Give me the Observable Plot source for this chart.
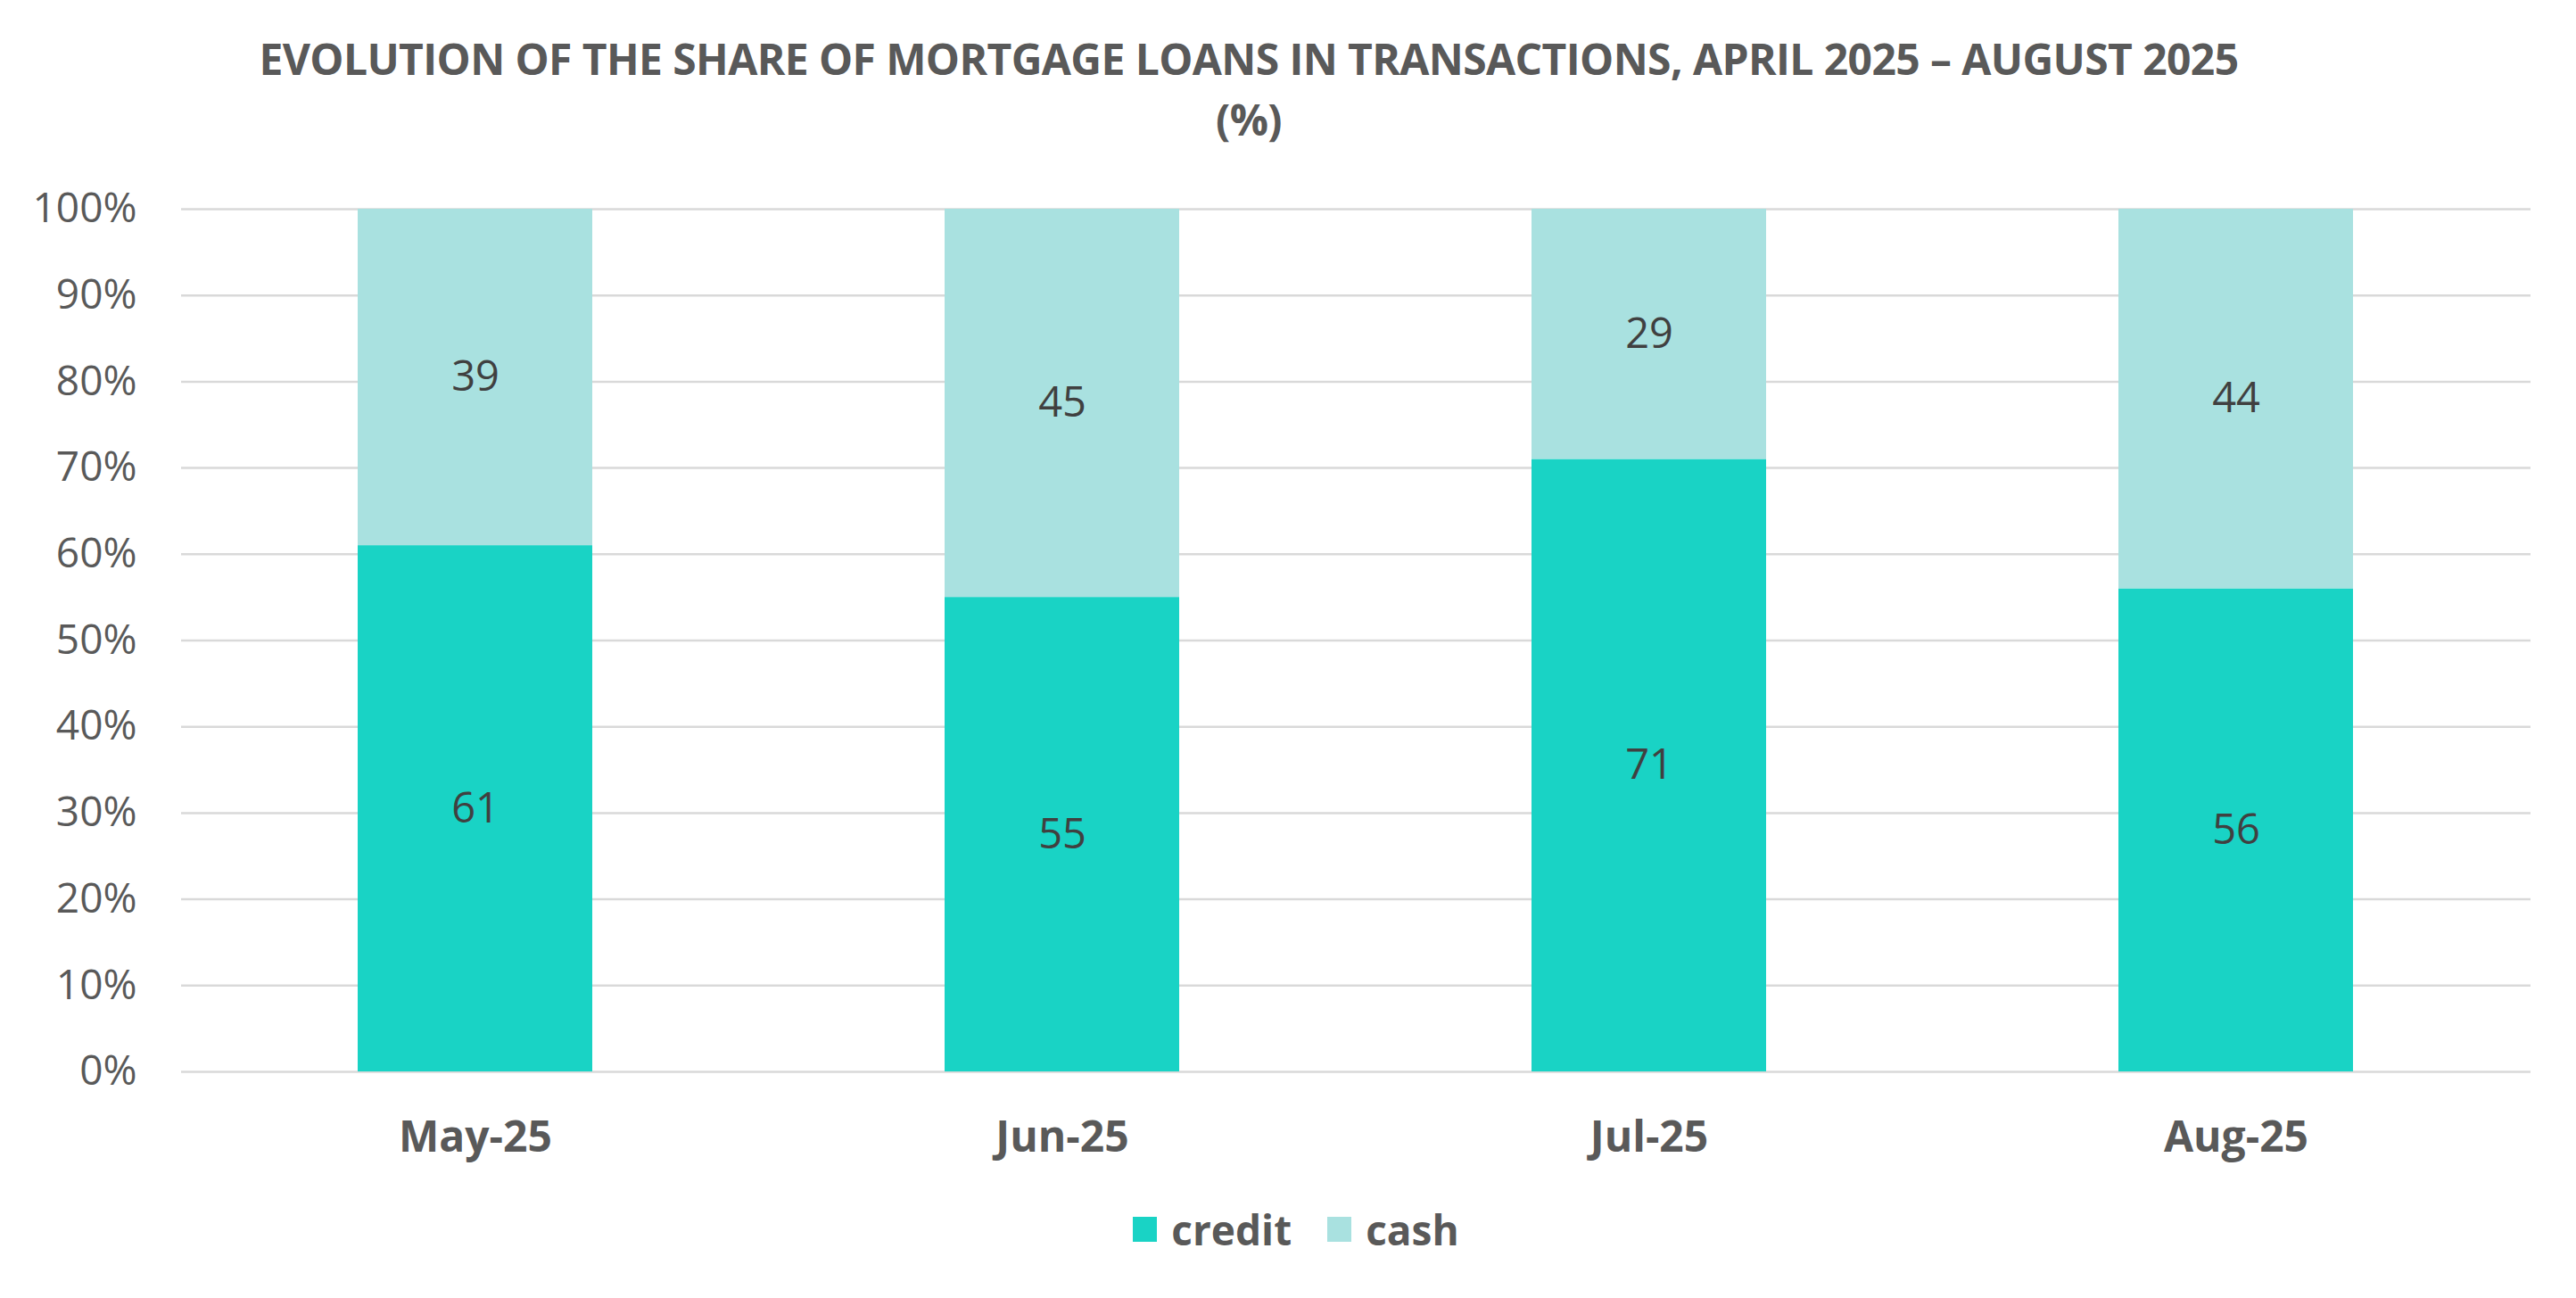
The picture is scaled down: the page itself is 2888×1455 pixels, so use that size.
<!DOCTYPE html>
<html>
<head>
<meta charset="utf-8">
<script src="https://cdn.jsdelivr.net/npm/d3@7"></script>
<script src="https://cdn.jsdelivr.net/npm/@observablehq/plot@0.6"></script>
<style>
  html, body { margin: 0; padding: 0; background: #fff; }
  body { width: 2888px; height: 1455px; position: relative; overflow: hidden; font-family: "Open Sans", sans-serif; color: #595959; }
  #title { position: absolute; left: 0; top: 32px; width: 2800px; text-align: center; font-weight: 700; font-size: 48px; line-height: 68px; letter-spacing: -0.6px; }
  #chart { position: absolute; left: 0; top: 170px; }
  #legend { position: absolute; left: 53px; top: 1346px; width: 2800px; display: flex; justify-content: center; align-items: center; font-weight: 700; font-size: 46px; height: 64px; }
  .item { display: flex; align-items: center; margin: 0 20px; }
  .sw { width: 27px; height: 28px; margin-right: 16px; }
</style>
</head>
<body>
<div id="title">EVOLUTION OF THE SHARE OF MORTGAGE LOANS IN TRANSACTIONS, APRIL 2025 – AUGUST 2025<br>(%)</div>
<div id="chart"></div>
<div id="legend"></div>
<script>
const months = ["May-25", "Jun-25", "Jul-25", "Aug-25"];
const credit = [61, 55, 71, 56];
const cash = [39, 45, 29, 44];
const seriesNames = ["credit", "cash"];
const seriesColors = ["#19D3C5", "#A9E1E0"];
const yTicks = [0, 10, 20, 30, 40, 50, 60, 70, 80, 90, 100];

const rows = months.flatMap((m, i) => [
  {month: m, type: "credit", value: credit[i]},
  {month: m, type: "cash", value: cash[i]}
]);

const chart = Plot.plot({
  width: 2888,
  height: 1160,
  marginLeft: 203,
  marginRight: 51,
  marginTop: 64,
  marginBottom: 129,
  style: {fontFamily: "Open Sans", color: "#595959", background: "#fff", overflow: "visible"},
  x: {domain: months, paddingInner: 0.6, paddingOuter: 0.3, label: null},
  y: {domain: [0, 100], label: null},
  color: {domain: seriesNames, range: seriesColors},
  marks: [
    Plot.gridY(yTicks, {stroke: "#D9D9D9", strokeOpacity: 1, strokeWidth: 2.5}),
    Plot.barY(rows, Plot.stackY({x: "month", y: "value", fill: "type", order: seriesNames})),
    Plot.text(rows, Plot.stackY({x: "month", y: "value", z: "type", order: seriesNames, text: d => String(d.value), fill: "#404040", fontSize: 47})),
    Plot.axisY({ticks: yTicks, tickFormat: d => d + "%", tickSize: 0, tickPadding: 50, fontSize: 46, label: null}),
    Plot.axisX({tickSize: 0, tickPadding: 55, fontSize: 48, fontWeight: "bold", label: null})
  ]
});
document.getElementById("chart").appendChild(chart);

const legend = document.getElementById("legend");
seriesNames.forEach((name, i) => {
  const item = document.createElement("div");
  item.className = "item";
  const sw = document.createElement("div");
  sw.className = "sw";
  sw.style.background = seriesColors[i];
  const label = document.createElement("span");
  label.textContent = name;
  item.appendChild(sw);
  item.appendChild(label);
  legend.appendChild(item);
});
</script>
</body>
</html>
